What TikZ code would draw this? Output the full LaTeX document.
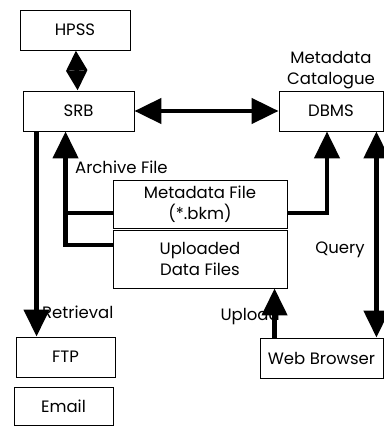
\documentclass[tikz,border=0pt]{standalone}
\usepackage{fontspec}
\setmainfont{Poppins}
\usetikzlibrary{arrows.meta,positioning,calc}

\begin{document}
\begin{tikzpicture}[x=1pt,y=-1pt,font=\fontsize{16.5}{21}\selectfont,
  box/.style={draw,line width=0.9pt,inner sep=0pt,align=center},
  flow/.style={line width=4.5pt},
  tip/.style={-{Triangle[width=25pt,length=27pt]}},
  both/.style={{Triangle[width=25pt,length=27pt]}-{Triangle[width=25pt,length=27pt]}}]
  \useasboundingbox (0,0) rectangle (383,427);
  % storage side
  \node[box,minimum width=110,minimum height=40] (hpss) at (75,30) {HPSS};
  \node[box,minimum width=111,minimum height=40] (srb) at (78.5,111) {SRB};
  \node[box,minimum width=99,minimum height=40] (ftp) at (65.5,357) {FTP};
  \node[box,minimum width=99,minimum height=38] (email) at (63.5,406) {Email};
  % catalogue side
  \node[box,minimum width=104,minimum height=40] (dbms) at (331,111) {DBMS};
  \node[align=center,above=1pt of dbms,inner sep=0pt] (cat) {Metadata\\Catalogue};
  \node[box,minimum width=123,minimum height=40] (web) at (321.5,358) {Web Browser};
  % files in the middle
  \node[box,minimum width=174,minimum height=48] (meta) at (200,204) {Metadata File\\(*.bkm)};
  \node[box,minimum width=174,minimum height=58] (upl) at (200,259) {Uploaded\\Data Files};
  % labels
  \node[anchor=west,inner sep=0pt] (arch) at (75,167) {Archive File};
  \node[inner sep=0pt] (qry) at (340,250) {Query};
  \node[anchor=east,inner sep=0pt] (uplab) at (280,317) {Upload};
  \node[anchor=west,inner sep=0pt] (ret) at (42,312) {Retrieval};
  % connectors
  \draw[flow,{Triangle[width=20pt,length=20pt]}-{Triangle[width=20pt,length=20pt]}] (hpss) -- (srb);
  \draw[flow,both] (srb.east) -- (dbms.west);
  \draw[flow,tip] ([xshift=14]srb.south west) -- ([xshift=14]srb.south west |- ftp.north);
  \draw[flow] ([yshift=-9]meta.west) -- ([yshift=-9]meta.west -| upl.west) -- ++(-47,0);
  \draw[flow,tip] ([yshift=14]upl.west) -| ([xshift=43]srb.south west);
  \draw[flow,tip] ([yshift=-9]meta.east) -| ([xshift=-4]dbms.south);
  \draw[flow,both] ([xshift=-7]dbms.south east) -- ([xshift=-7]dbms.south east |- web.north);
  \draw[flow,tip] ([xshift=15]web.north west) -- ([xshift=15]web.north west |- upl.south);
\end{tikzpicture}
\end{document}
